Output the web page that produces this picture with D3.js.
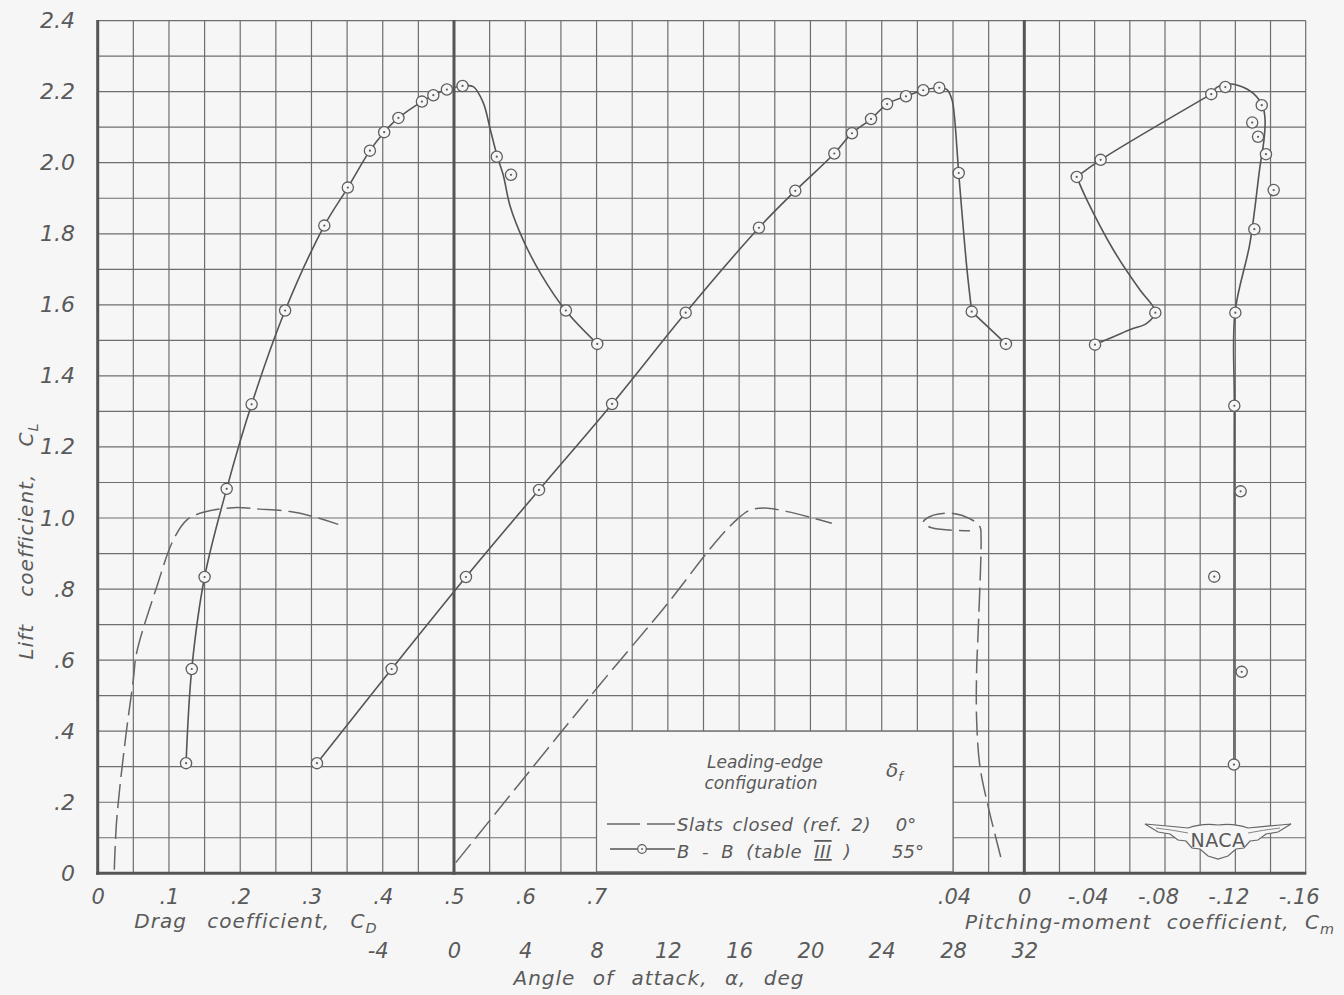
<!DOCTYPE html>
<html>
<head>
<meta charset="utf-8">
<script src="https://cdn.jsdelivr.net/npm/d3@7"></script>
<style>
  html, body { margin: 0; padding: 0; background: #f6f6f6; }
  svg { display: block; }
  text { font-family: "DejaVu Sans", sans-serif; font-style: italic; fill: #5a5a5a; }
</style>
</head>
<body>
<svg id="chart" width="1344" height="995"></svg>
<script>
// ---------------- data ----------------
// Lift coefficient ticks (left axis)
const liftTicks = [0, 0.2, 0.4, 0.6, 0.8, 1.0, 1.2, 1.4, 1.6, 1.8, 2.0, 2.2, 2.4];
const liftTickLabels = ["0", ".2", ".4", ".6", ".8", "1.0", "1.2", "1.4", "1.6", "1.8", "2.0", "2.2", "2.4"];
// Drag coefficient ticks
const dragTicks = [0, 0.1, 0.2, 0.3, 0.4, 0.5, 0.6, 0.7];
const dragTickLabels = ["0", ".1", ".2", ".3", ".4", ".5", ".6", ".7"];
// Angle of attack ticks, deg
const alphaTicks = [-4, 0, 4, 8, 12, 16, 20, 24, 28, 32];
const alphaTickLabels = ["-4", "0", "4", "8", "12", "16", "20", "24", "28", "32"];
// Pitching-moment coefficient ticks
const momentTicks = [0.04, 0, -0.04, -0.08, -0.12, -0.16];
const momentTickLabels = [".04", "0", "-.04", "-.08", "-.12", "-.16"];

// B-B (table III), delta_f = 55 deg : test points [CD, CL]
const bbDragPoints = [
  [0.124, 0.310], [0.132, 0.575], [0.150, 0.834], [0.181, 1.082], [0.216, 1.320],
  [0.263, 1.584], [0.318, 1.823], [0.351, 1.930], [0.382, 2.034], [0.402, 2.086],
  [0.422, 2.126], [0.455, 2.172], [0.471, 2.190], [0.490, 2.206], [0.512, 2.216],
  [0.560, 2.017], [0.580, 1.966], [0.657, 1.584], [0.701, 1.490]
];
// faired drag curve, drawn in pieces
const bbDragCurve = [[
  [0.124, 0.310], [0.132, 0.575], [0.150, 0.834], [0.181, 1.082], [0.216, 1.320],
  [0.263, 1.584], [0.318, 1.823], [0.351, 1.930], [0.382, 2.034], [0.402, 2.086],
  [0.422, 2.126], [0.455, 2.172], [0.471, 2.190], [0.490, 2.206], [0.512, 2.216],
  [0.527, 2.214], [0.541, 2.169], [0.551, 2.093], [0.560, 2.023], [0.569, 1.966],
  [0.579, 1.876], [0.597, 1.783], [0.621, 1.690], [0.657, 1.583], [0.701, 1.490]
]];

// B-B : test points [alpha, CL]
const bbAlphaPoints = [
  [-7.69, 0.310], [-3.50, 0.575], [0.67, 0.834], [4.77, 1.079], [8.87, 1.321],
  [13.00, 1.578], [17.11, 1.817], [19.15, 1.921], [21.34, 2.026], [22.33, 2.083],
  [23.40, 2.123], [24.30, 2.165], [25.36, 2.187], [26.33, 2.204], [27.23, 2.211],
  [28.32, 1.971], [29.05, 1.581], [30.97, 1.490]
];
const bbAlphaCurve = [[
  [-7.69, 0.310], [-3.50, 0.575], [0.67, 0.834], [4.77, 1.079], [8.87, 1.321],
  [13.00, 1.578], [17.11, 1.817], [19.15, 1.921], [21.34, 2.026], [22.33, 2.083],
  [23.40, 2.123], [24.30, 2.165], [25.36, 2.187], [26.33, 2.204], [27.23, 2.211],
  [27.66, 2.206], [27.94, 2.178], [28.08, 2.130], [28.32, 1.971], [28.77, 1.707],
  [29.05, 1.581]
], [
  [29.05, 1.581], [30.97, 1.490]
]];

// B-B : test points [Cm, CL]
const bbMomentPoints = [
  [-0.1192, 0.306], [-0.1236, 0.567], [-0.1080, 0.835], [-0.1230, 1.075], [-0.1194, 1.316],
  [-0.1200, 1.578], [-0.1308, 1.813], [-0.1418, 1.923], [-0.1374, 2.024], [-0.1329, 2.073],
  [-0.1296, 2.113], [-0.1350, 2.162], [-0.1063, 2.193], [-0.1143, 2.213], [-0.0434, 2.008],
  [-0.0298, 1.960], [-0.0745, 1.578], [-0.0402, 1.488]
];
const bbMomentCurve = [[
  [-0.1192, 0.306], [-0.1194, 1.316], [-0.1198, 1.578], [-0.1283, 1.774], [-0.1340, 1.989],
  [-0.1363, 2.065], [-0.1369, 2.121], [-0.1356, 2.158], [-0.1302, 2.195], [-0.1226, 2.216],
  [-0.1151, 2.222], [-0.1094, 2.212], [-0.1063, 2.193]
], [
  [-0.1063, 2.193], [-0.0434, 2.008], [-0.0298, 1.960]
], [
  [-0.0298, 1.960], [-0.0355, 1.896], [-0.0506, 1.755], [-0.0658, 1.642], [-0.0733, 1.595],
  [-0.0745, 1.578], [-0.0696, 1.548], [-0.0600, 1.530], [-0.0402, 1.488]
]];

// Slats closed (ref. 2), delta_f = 0 deg
const slatsDragCurve = [
  [0.0233, 0.010], [0.0267, 0.151], [0.0383, 0.368], [0.0500, 0.545], [0.0547, 0.621],
  [0.0828, 0.806], [0.1061, 0.938], [0.1249, 0.994], [0.1482, 1.016], [0.1903, 1.029],
  [0.2278, 1.025], [0.2699, 1.018], [0.3026, 1.004], [0.3376, 0.982]
];
const slatsAlphaCurve = [
  [0.1, 0.030], [8.2, 0.532], [12.0, 0.760], [14.0, 0.890], [14.95, 0.948], [15.9, 0.997],
  [16.6, 1.022], [17.4, 1.028], [18.7, 1.018], [20.2, 0.999], [21.2, 0.985]
];
const slatsMomentCurve = [
  [0.0134, 0.046], [0.0205, 0.187], [0.0252, 0.300], [0.0271, 0.431], [0.0271, 0.572],
  [0.0262, 0.684], [0.0246, 0.947], [0.0252, 0.975], [0.0309, 0.998], [0.0404, 1.013],
  [0.0517, 1.008], [0.0574, 0.989], [0.0536, 0.974], [0.0422, 0.966], [0.0309, 0.964]
];

// ---------------- scales ----------------
const ink = "#5a5a5a";
const gridInk = "#6e6e6e";
const paper = "#f6f6f6";

const svg = d3.select("#chart");
const y = d3.scaleLinear().domain([0, 2.4]).range([873.3, 20.6]);
const xCD = d3.scaleLinear().domain([0, 0.5]).range([97.7, 454]);
const xAlpha = d3.scaleLinear().domain([0, 32]).range([454, 1024.3]);
const xCm = d3.scaleLinear().domain([0, -0.16]).range([1024.3, 1305.7]);

// ---------------- grid ----------------
const gridX = [
  ...d3.range(0, 11).map(i => xCD(i * 0.05)),
  ...d3.range(1, 17).map(i => xAlpha(i * 2)),
  ...d3.range(1, 9).map(i => xCm(-i * 0.02))
];
const gridY = d3.range(0, 25).map(i => y(i / 10));
const plotLeft = xCD(0), plotRight = xCm(-0.16), plotTop = y(2.4), plotBottom = y(0);

const grid = svg.append("g").attr("stroke", gridInk).attr("stroke-width", 1.2).attr("fill", "none");
grid.selectAll("line.v").data(gridX).join("line").attr("class", "v")
  .attr("x1", d => d).attr("x2", d => d).attr("y1", plotTop).attr("y2", plotBottom);
grid.selectAll("line.h").data(gridY).join("line").attr("class", "h")
  .attr("x1", plotLeft).attr("x2", plotRight).attr("y1", d => d).attr("y2", d => d);

// heavy reference lines: CL = 0, CD = 0, CD = .5 (alpha = 0), Cm = 0
const heavy = svg.append("g").attr("stroke", "#555").attr("stroke-width", 3);
[xCD(0), xCD(0.5), xCm(0)].forEach(x =>
  heavy.append("line").attr("x1", x).attr("x2", x).attr("y1", plotTop - 0.5).attr("y2", plotBottom + 1.5));
heavy.append("line").attr("x1", plotLeft - 1.5).attr("x2", plotRight + 0.6).attr("y1", plotBottom).attr("y2", plotBottom);

// ---------------- legend panel (blanks the grid) ----------------
const lgX0 = xCD(0.7), lgX1 = xAlpha(28), lgY0 = y(0.4), lgY1 = y(0);
svg.append("rect").attr("x", lgX0).attr("y", lgY0).attr("width", lgX1 - lgX0).attr("height", lgY1 - lgY0 - 1.5)
  .attr("fill", paper).attr("stroke", gridInk).attr("stroke-width", 1.2);

// ---------------- curves ----------------
const curveType = d3.curveCatmullRom.alpha(0.5);
const lineCD = d3.line().x(d => xCD(d[0])).y(d => y(d[1])).curve(curveType);
const lineAlpha = d3.line().x(d => xAlpha(d[0])).y(d => y(d[1])).curve(curveType);
const lineCm = d3.line().x(d => xCm(d[0])).y(d => y(d[1])).curve(curveType);

const curves = svg.append("g").attr("fill", "none").attr("stroke", "#555").attr("stroke-width", 1.6)
  .attr("stroke-linejoin", "round").attr("stroke-linecap", "round");
bbDragCurve.forEach(seg => curves.append("path").attr("d", lineCD(seg)));
bbAlphaCurve.forEach(seg => curves.append("path").attr("d", lineAlpha(seg)));
bbMomentCurve.forEach(seg => curves.append("path").attr("d", lineCm(seg)));

const dashed = svg.append("g").attr("fill", "none").attr("stroke", "#666").attr("stroke-width", 1.5)
  .attr("stroke-dasharray", "24,7");
dashed.append("path").attr("d", lineCD(slatsDragCurve));
dashed.append("path").attr("d", lineAlpha(slatsAlphaCurve));
dashed.append("path").attr("d", lineCm(slatsMomentCurve));

// ---------------- symbols ----------------
function drawSymbols(points, xs) {
  const g = svg.append("g");
  const s = g.selectAll("g").data(points).join("g")
    .attr("transform", d => `translate(${xs(d[0])},${y(d[1])})`);
  s.append("circle").attr("r", 5.6).attr("fill", paper).attr("stroke", "#5e5e5e").attr("stroke-width", 1.3);
  s.append("circle").attr("r", 1.1).attr("fill", "#5e5e5e");
}
drawSymbols(bbDragPoints, xCD);
drawSymbols(bbAlphaPoints, xAlpha);
drawSymbols(bbMomentPoints, xCm);

// ---------------- axes ----------------
function styleAxis(g, size) {
  g.select(".domain").remove();
  g.selectAll(".tick line").remove();
  g.selectAll(".tick text").attr("fill", ink).style("font-size", size + "px")
    .style("font-family", '"DejaVu Sans", sans-serif').style("font-style", "italic");
}
svg.append("g").attr("transform", "translate(75,0)")
  .call(d3.axisLeft(y).tickValues(liftTicks).tickFormat((d, i) => liftTickLabels[i]).tickSize(0).tickPadding(0))
  .call(g => styleAxis(g, 22));

svg.append("g").attr("transform", "translate(0,889)")
  .call(d3.axisBottom(xCD).tickValues(dragTicks).tickFormat((d, i) => dragTickLabels[i]).tickSize(0).tickPadding(0))
  .call(g => styleAxis(g, 21));

svg.append("g").attr("transform", "translate(0,889)")
  .call(d3.axisBottom(xCm).tickValues(momentTicks).tickFormat((d, i) => momentTickLabels[i]).tickSize(0).tickPadding(0))
  .call(g => styleAxis(g, 21))
  .call(g => g.selectAll(".tick text").attr("dx", d => d < 0 ? -7 : 0));

svg.append("g").attr("transform", "translate(0,943)")
  .call(d3.axisBottom(xAlpha).tickValues(alphaTicks).tickFormat((d, i) => alphaTickLabels[i]).tickSize(0).tickPadding(0))
  .call(g => styleAxis(g, 21))
  .call(g => g.selectAll(".tick text").attr("dx", d => d < 0 ? -5 : 0));

// ---------------- axis titles ----------------
function title(x, yy, main, sub, opts) {
  const t = svg.append("text").attr("x", x).attr("y", yy).attr("text-anchor", "middle")
    .style("font-size", opts.size + "px").style("letter-spacing", opts.ls + "px")
    .style("word-spacing", opts.ws + "px");
  if (opts.rotate) t.attr("transform", `rotate(-90,${x},${yy})`);
  t.append("tspan").text(main);
  if (sub) {
    t.append("tspan").attr("dy", 5).style("font-size", (opts.size * 0.72) + "px").text(sub);
  }
  return t;
}
title(256, 928, "Drag coefficient, C", "D", { size: 20, ls: 1, ws: 13 });
title(1150, 929, "Pitching-moment coefficient, C", "m", { size: 20, ls: 1, ws: 8 });
title(659, 985, "Angle of attack, \u03b1, deg", null, { size: 20, ls: 1, ws: 10 });
title(33, 541, "Lift coefficient, C", "L", { size: 20, ls: 1, ws: 20, rotate: true });

// ---------------- legend ----------------
const lg = svg.append("g");
lg.append("text").attr("x", 765).attr("y", 768).attr("text-anchor", "middle").style("font-size", "17px").text("Leading-edge");
lg.append("text").attr("x", 761).attr("y", 789).attr("text-anchor", "middle").style("font-size", "17px").text("configuration");
const df = lg.append("text").attr("x", 886).attr("y", 777).style("font-size", "20px");
df.append("tspan").text("\u03b4");
df.append("tspan").attr("dy", 4).style("font-size", "13px").text("f");

lg.append("line").attr("x1", 607).attr("x2", 675).attr("y1", 824).attr("y2", 824)
  .attr("stroke", "#666").attr("stroke-width", 1.5).attr("stroke-dasharray", "33,7");
lg.append("text").attr("x", 677).attr("y", 831).style("font-size", "18px")
  .style("letter-spacing", "0.5px").style("word-spacing", "3px").text("Slats closed (ref. 2)");
lg.append("text").attr("x", 906).attr("y", 831).attr("text-anchor", "middle").style("font-size", "18px").text("0\u00b0");

lg.append("line").attr("x1", 610).attr("x2", 675).attr("y1", 849).attr("y2", 849)
  .attr("stroke", "#555").attr("stroke-width", 1.4);
lg.append("circle").attr("cx", 642).attr("cy", 849).attr("r", 4.3).attr("fill", paper).attr("stroke", "#5e5e5e").attr("stroke-width", 1.2);
lg.append("circle").attr("cx", 642).attr("cy", 849).attr("r", 0.9).attr("fill", "#5e5e5e");
const bb = lg.append("text").attr("x", 677).attr("y", 858).style("font-size", "18px")
  .style("letter-spacing", "0.5px").style("word-spacing", "6px");
bb.append("tspan").text("B - B  (table ");
bb.append("tspan").style("text-decoration", "underline overline").text("III");
bb.append("tspan").text(" )");
lg.append("text").attr("x", 908).attr("y", 858).attr("text-anchor", "middle").style("font-size", "18px").text("55\u00b0");

// ---------------- NACA wings ----------------
const logo = svg.append("g").attr("transform", "translate(1218,0)");
logo.append("path")
  .attr("d", "M-73,824 Q-50,826 -30,828 Q-16,823 0,825 Q16,823 30,828 Q50,826 73,824 " +
             "L60,832 L48,834 L40,840 L32,841 L26,848 L18,849 L10,856 L0,859 L-10,856 L-18,849 " +
             "L-26,848 L-32,841 L-40,840 L-48,834 L-60,832 Z")
  .attr("fill", paper).attr("stroke", "#666").attr("stroke-width", 1.2);
logo.append("path")
  .attr("d", "M-62,828 Q-45,830 -30,833 M62,828 Q45,830 30,833")
  .attr("fill", "none").attr("stroke", "#777").attr("stroke-width", 0.9);
logo.append("text").attr("x", 0).attr("y", 847).attr("text-anchor", "middle")
  .style("font-style", "normal").style("font-size", "19px").style("letter-spacing", "0.5px").text("NACA");
</script>
</body>
</html>
